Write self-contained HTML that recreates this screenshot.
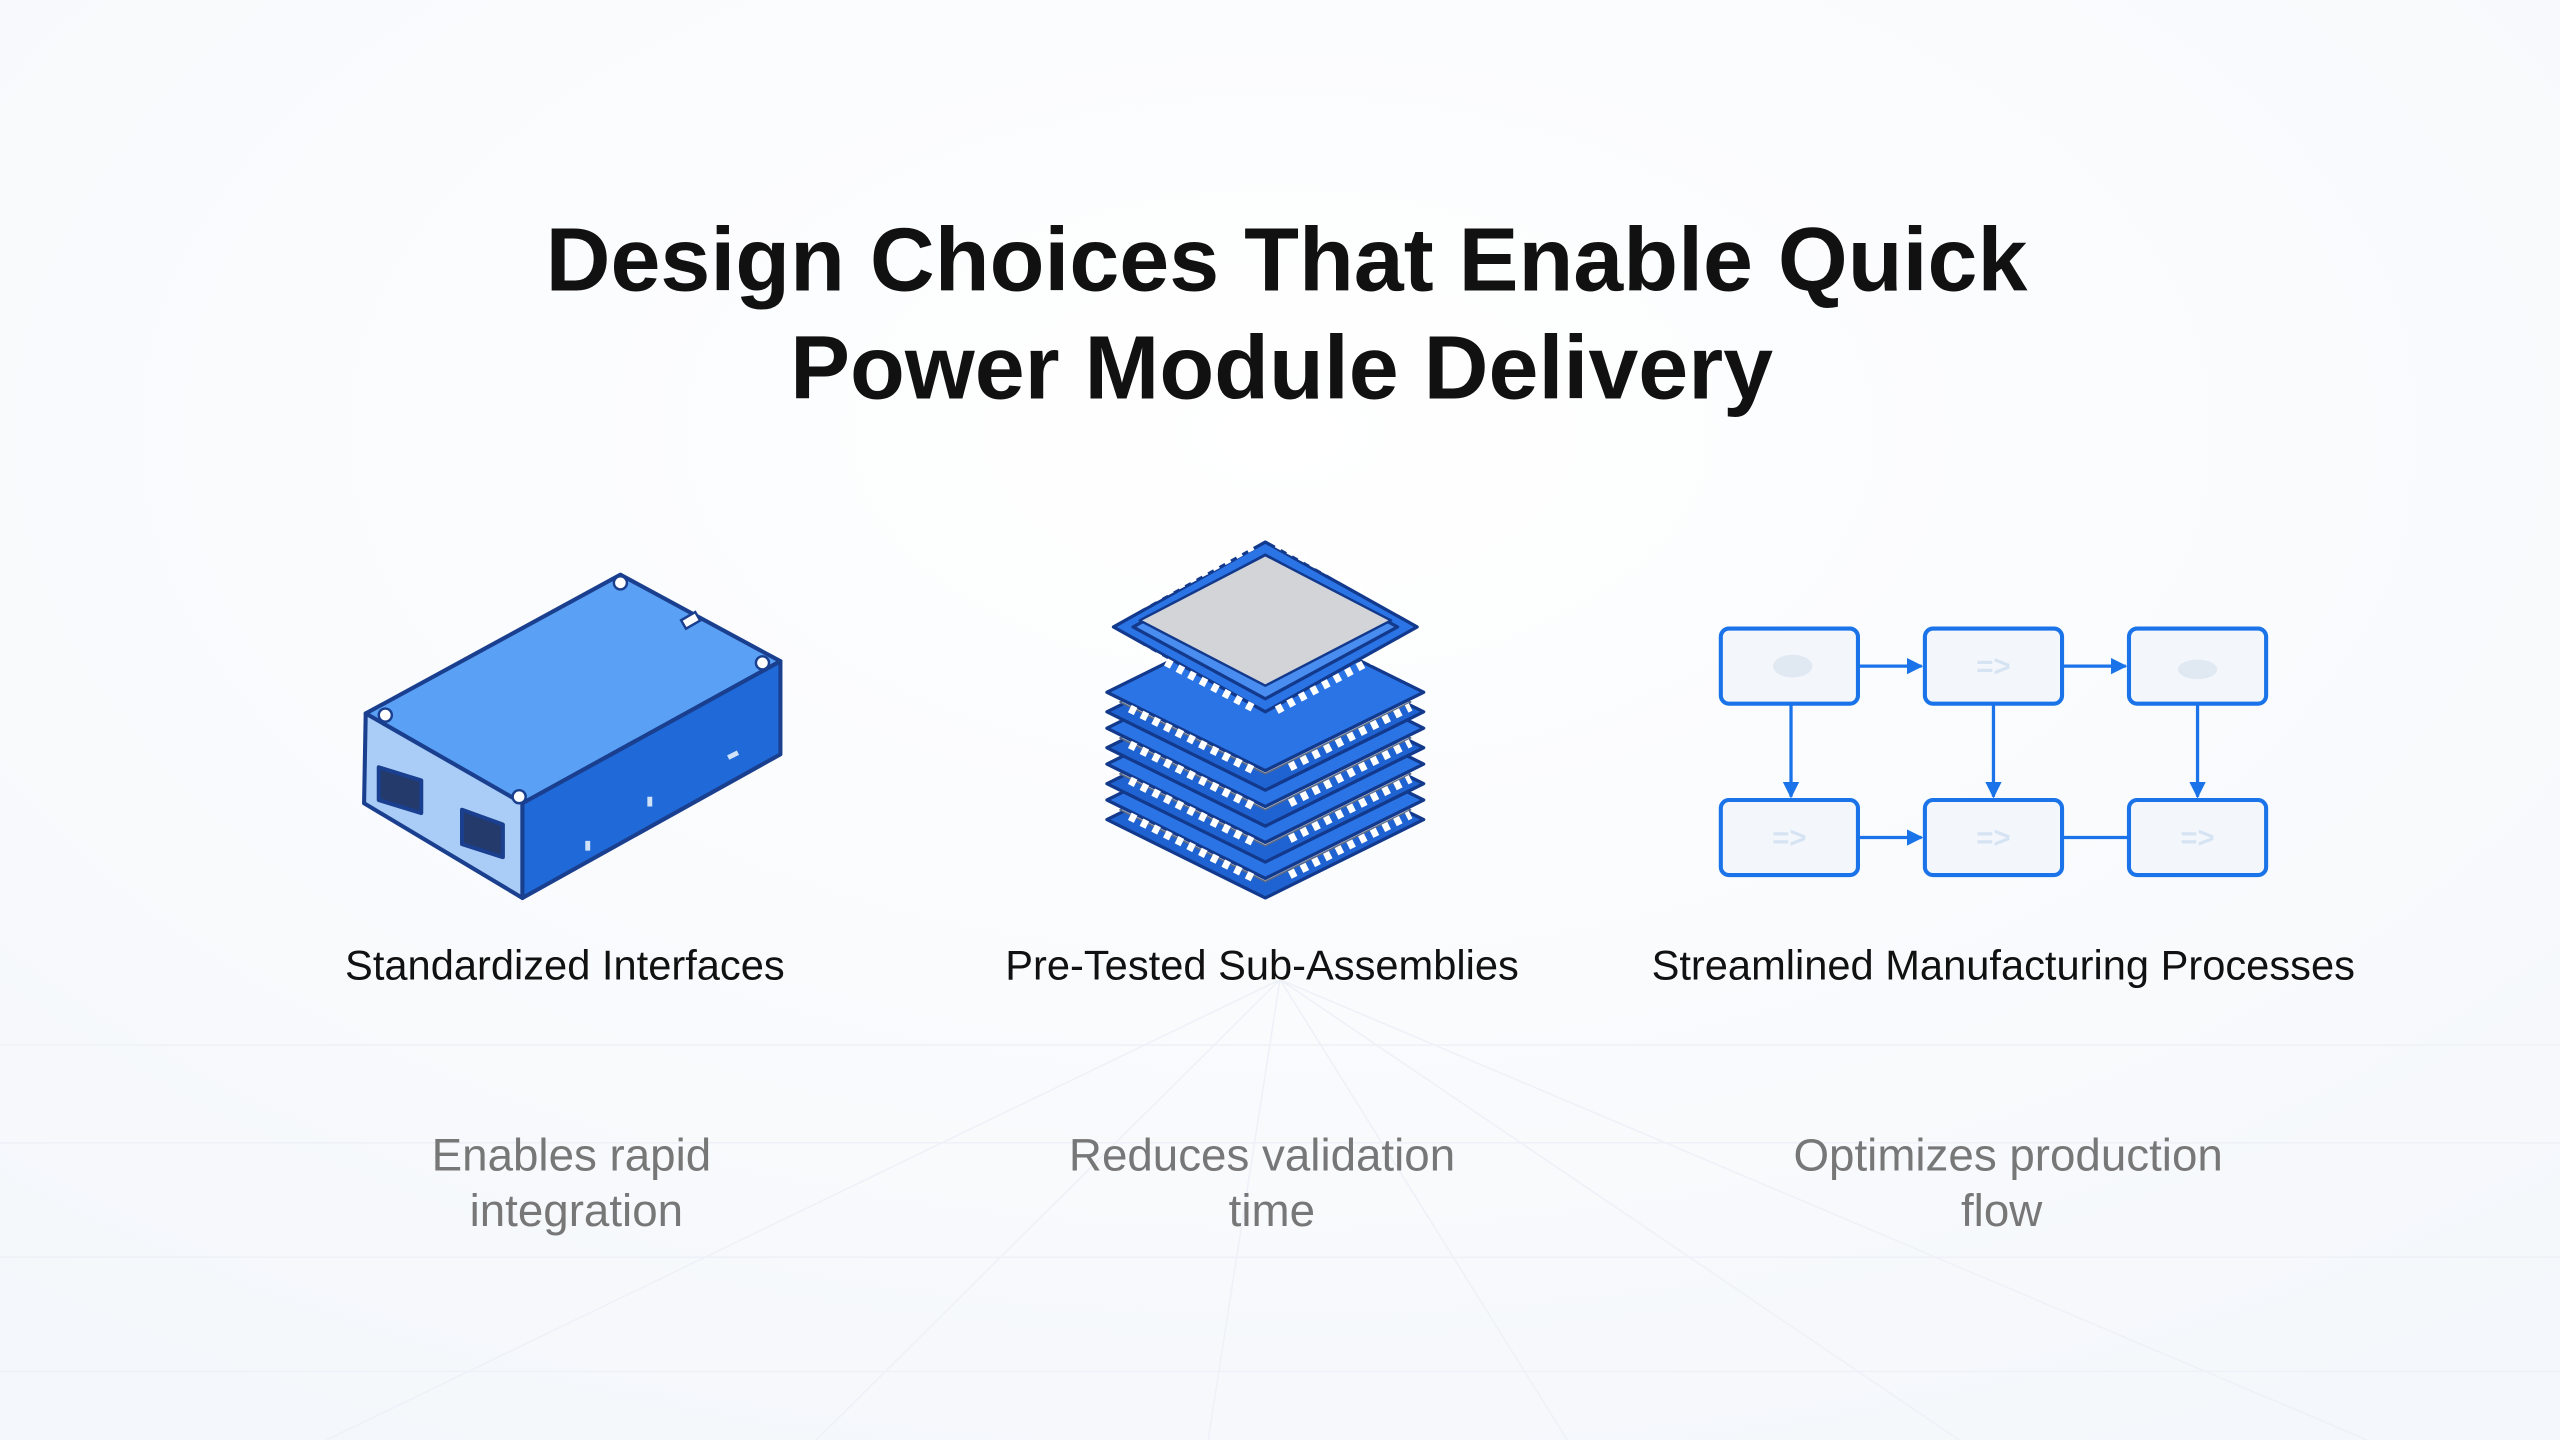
<!DOCTYPE html>
<html><head><meta charset="utf-8"><style>
html,body{margin:0;padding:0;width:2560px;height:1440px;overflow:hidden;background:#fbfcfe}
svg{display:block}
</style></head><body>
<svg width="2560" height="1440" viewBox="0 0 1568 882" xmlns="http://www.w3.org/2000/svg">
<defs>
<radialGradient id="bg" cx="0.5" cy="0.3" r="0.8"><stop offset="0" stop-color="#ffffff"/><stop offset="1" stop-color="#f4f7fb"/></radialGradient>
<marker id="ah" viewBox="0 0 10 10" refX="9" refY="5" markerWidth="5" markerHeight="5" orient="auto"><path d="M0,0 L10,5 L0,10z" fill="#1a73e8"/></marker>
</defs>
<rect width="1568" height="882" fill="url(#bg)"/>
<g stroke="#eef2f8" stroke-width="1" fill="none">
<path d="M0,640 L1568,640 M0,700 L1568,700 M0,770 L1568,770 M0,840 L1568,840"/>
<path d="M784,600 L500,882 M784,600 L740,882 M784,600 L960,882 M784,600 L1200,882 M784,600 L200,882 M784,600 L1450,882"/>
</g>
<g font-family="Liberation Sans, sans-serif" text-anchor="middle">
<text x="788" y="178" font-size="55" font-weight="bold" fill="#111">Design Choices That Enable Quick</text>
<text x="785" y="244" font-size="55" font-weight="bold" fill="#111">Power Module Delivery</text>
<text x="346" y="600" font-size="25.5" fill="#111">Standardized Interfaces</text>
<text x="773" y="600" font-size="25.5" fill="#111">Pre-Tested Sub-Assemblies</text>
<text x="1227" y="600" font-size="25.5" fill="#111">Streamlined Manufacturing Processes</text>
<g font-size="28" fill="#777">
<text x="350" y="717">Enables rapid</text><text x="353" y="751">integration</text>
<text x="773" y="717">Reduces validation</text><text x="779" y="751">time</text>
<text x="1230" y="717">Optimizes production</text><text x="1226" y="751">flow</text>
</g>
</g>
<!-- box -->
<g stroke="#1a3f8f" stroke-width="2.5" stroke-linejoin="round">
<polygon points="224,437 380,352 478,405 320,492" fill="#5aa0f5"/>
<polygon points="224,437 320,492 320,550 223,492" fill="#a9cdf7"/>
<polygon points="320,492 478,405 478,462 320,550" fill="#1f6ad8"/>
<polygon points="232,470 258,478 258,498 232,490" fill="#233a6a"/>
<polygon points="283,496 308,505 308,525 283,517" fill="#233a6a"/>
</g>
<g fill="#fff" stroke="#1a3f8f" stroke-width="1.5">
<circle cx="380" cy="357" r="4"/><circle cx="467" cy="406" r="4"/><circle cx="236" cy="438" r="4"/><circle cx="318" cy="488" r="4"/>
<rect x="418" y="377" width="10" height="6" transform="rotate(-30 423 380)"/>
</g>
<path d="M446,464 L452,461 M360,515 L360,521 M398,488 L398,494" stroke="#cfe2fa" stroke-width="3"/>
<!-- chip stack -->
<g stroke="#12398c" stroke-width="2" stroke-linejoin="round">
<g id="L">
<polygon points="678,502 775,454 872,502 775,550" fill="#1f63d2"/>
<polygon points="686,496 775,452 864,496 775,540" fill="#c9ced6" stroke="#5a6a88" stroke-width="1"/>
<polygon points="678,490 775,442 872,490 775,538" fill="#2b74e6"/>
<path d="M692,500 L768,538 M790,536 L864,499" stroke="#fff" stroke-width="5" stroke-dasharray="4 4" fill="none"/>
</g>
<use href="#L" transform="translate(0,-22)"/>
<use href="#L" transform="translate(0,-44)"/>
<use href="#L" transform="translate(0,-66)"/>
<polygon points="682,384 775,332 868,384 775,436" fill="#2b74e6"/>
<path d="M700,370 L770,333 M782,333 L852,370 M700,398 L770,435 M782,435 L852,398" stroke="#fff" stroke-width="5" stroke-dasharray="4 4" fill="none"/>
<polygon points="694,384 775,340 856,384 775,428" fill="#4a8df0"/>
<polygon points="698,380 775,340 852,380 775,420" fill="#d2d4d8" stroke-width="1.5"/>
</g>
<!-- flow -->
<g fill="#f3f7fc" stroke="#1a73e8" stroke-width="2.5">
<rect x="1054" y="385" width="84" height="46" rx="5"/>
<rect x="1179" y="385" width="84" height="46" rx="5"/>
<rect x="1304" y="385" width="84" height="46" rx="5"/>
<rect x="1054" y="490" width="84" height="46" rx="5"/>
<rect x="1179" y="490" width="84" height="46" rx="5"/>
<rect x="1304" y="490" width="84" height="46" rx="5"/>
</g>
<g font-family="Liberation Sans, sans-serif" font-size="18" fill="#d6e3f3" text-anchor="middle" font-weight="bold">
<text x="1221" y="414">=&gt;</text><text x="1096" y="519">=&gt;</text><text x="1221" y="519">=&gt;</text><text x="1346" y="519">=&gt;</text>
</g>
<ellipse cx="1098" cy="408" rx="12" ry="7" fill="#e0e8f2"/><ellipse cx="1346" cy="410" rx="12" ry="6" fill="#e0e8f2"/>
<g stroke="#1a73e8" stroke-width="2" fill="none" marker-end="url(#ah)">
<path d="M1139,408 L1177,408"/><path d="M1264,408 L1302,408"/><path d="M1139,513 L1177,513"/>
<path d="M1097,432 L1097,488"/><path d="M1221,432 L1221,488"/><path d="M1346,432 L1346,488"/>
</g>
<path d="M1264,513 L1303,513" stroke="#1a73e8" stroke-width="2"/>
</svg>
</body></html>
